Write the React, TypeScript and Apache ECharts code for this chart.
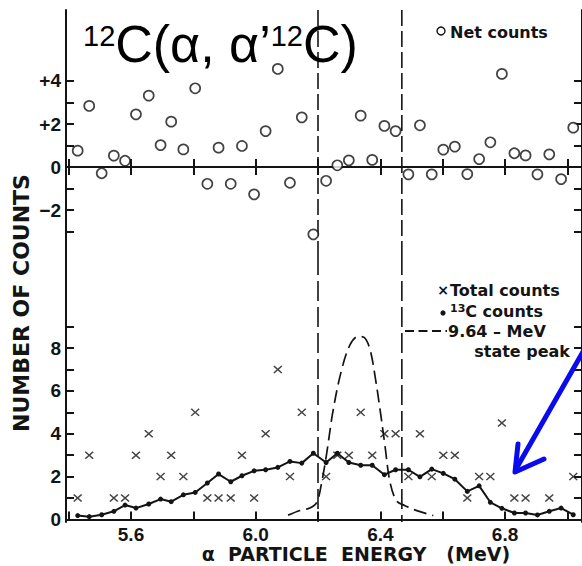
import React, { useEffect, useRef } from "react";
import * as echarts from "echarts";

// Channel energies (MeV)
const energy = [5.429, 5.466, 5.506, 5.545, 5.581, 5.616, 5.657, 5.695, 5.729, 5.768, 5.806, 5.845, 5.881, 5.92, 5.956, 5.995, 6.032, 6.071, 6.11, 6.148, 6.185, 6.226, 6.262, 6.299, 6.337, 6.374, 6.413, 6.449, 6.49, 6.527, 6.565, 6.602, 6.639, 6.679, 6.717, 6.753, 6.79, 6.83, 6.866, 6.904, 6.942, 6.98, 7.019];
// Net counts (top panel)
const netCounts = [0.76, 2.84, -0.29, 0.53, 0.29, 2.45, 3.32, 1.02, 2.11, 0.82, 3.66, -0.78, 0.9, -0.78, 0.98, -1.27, 1.67, 4.56, -0.73, 2.31, -3.13, -0.64, 0.08, 0.31, 2.39, 0.33, 1.91, 1.67, -0.34, 1.94, -0.34, 0.81, 0.95, -0.33, 0.37, 1.15, 4.33, 0.64, 0.54, -0.34, 0.59, -0.56, 1.83];
// Total counts (bottom panel, crosses)
const totalCounts = [1, 3, null, 1, 1, 3, 4, 2, 3, 2, 5, 1, 1, 1, 3, 1, 4, 7, 2, 5, null, 2, 3, 3, 5, 3, 4, 4, 2, 4, 2, 3, 3, 1, 2, 2, 4.5, 1, 1, null, 1, null, 2];
// 13C counts (bottom panel, dots + line)
const c13Counts = [0.18, 0.13, 0.22, 0.38, 0.67, 0.53, 0.72, 0.95, 0.83, 1.15, 1.26, 1.7, 2.12, 1.76, 2.04, 2.27, 2.32, 2.43, 2.71, 2.63, 3.09, 2.66, 3.09, 2.66, 2.53, 2.53, 2.09, 2.32, 2.32, 1.99, 2.35, 2.15, 1.88, 1.31, 1.57, 0.8, 0.52, 0.3, 0.3, 0.21, 0.38, 0.53, 0.22];
// 9.64-MeV state peak (dashed curve)
const peakEnergy = [6.104, 6.142, 6.174, 6.196, 6.212, 6.228, 6.249, 6.276, 6.303, 6.329, 6.348, 6.367, 6.383, 6.399, 6.415, 6.431, 6.452, 6.479, 6.517, 6.57];
const peakCounts = [0.2, 0.42, 0.53, 0.8, 1.74, 3.1, 5.14, 7.0, 8.16, 8.55, 8.5, 7.93, 6.69, 5.14, 3.43, 1.74, 0.87, 0.64, 0.41, 0.18];
// Gate lines (MeV)
const gateLines = [6.2, 6.469];
// Ticks
const xTicks = [5.4, 5.6, 5.8, 6.0, 6.2, 6.4, 6.6, 6.8, 7.0];
const xLabels = [5.6, 6.0, 6.4, 6.8];
const topYTicks = [-3, -2, -1, 0, 1, 2, 3, 4];
const topYLabels = [-2, 0, 2, 4];
const botYTicks = [1, 2, 3, 4, 5, 6, 7, 8, 9];
const botYLabels = [0, 2, 4, 6, 8];

const INK = "#141414";
const XMIN = 5.3915;
const XMAX = 7.047;
const TOP_Y: [number, number] = [-4.09, 7.3];
const BOT_Y: [number, number] = [-0.12, 12.35];

export default function App() {
  const ref = useRef<HTMLDivElement>(null);
  useEffect(() => {
    if (!ref.current) return;
    const chart = echarts.init(ref.current, null, { renderer: "svg" });
    const axisLine = { show: true, lineStyle: { color: INK, width: 2 } };
    const labelFont = { color: INK, fontSize: 19, fontWeight: "bold" as const, fontFamily: "Liberation Sans" };
    const xBase = (gridIndex: number, position: string, labels: boolean) => ({
      type: "value",
      gridIndex,
      position,
      min: XMIN,
      max: XMAX,
      axisLine,
      splitLine: { show: false },
      axisTick: { show: true, inside: true, length: 8, lineStyle: { color: INK, width: 2 }, customValues: xTicks },
      axisLabel: labels
        ? { show: true, margin: 3, customValues: xLabels, formatter: (v: number) => v.toFixed(1), ...labelFont }
        : { show: false },
    });
    const yBase = (gridIndex: number, position: string, range: [number, number], ticks: number[], labels: number[] | null, fmt?: (v: number) => string) => ({
      type: "value",
      gridIndex,
      position,
      min: range[0],
      max: range[1],
      axisLine,
      splitLine: { show: false },
      axisTick: { show: true, inside: true, length: 8, lineStyle: { color: INK, width: 2 }, customValues: ticks },
      axisLabel: labels
        ? { show: true, margin: 5, customValues: labels, formatter: fmt, ...labelFont }
        : { show: false },
    });
    const signFmt = (v: number) => (v > 0 ? "+" + v : v < 0 ? "\u2212" + Math.abs(v) : "0");
    const crossPath = "path://M0,1.2 L1.2,0 L5,3.8 L8.8,0 L10,1.2 L6.2,5 L10,8.8 L8.8,10 L5,6.2 L1.2,10 L0,8.8 L3.8,5 Z";

    const gateSeries = (xAxisIndex: number, yAxisIndex: number, dash: number[]) => ({
      type: "custom",
      xAxisIndex,
      yAxisIndex,
      silent: true,
      z: 1,
      data: gateLines.map((g) => [g, 0]),
      encode: { x: 0, y: 1 },
      renderItem: (params: any, api: any) => {
        const cs = params.coordSys;
        const x = api.coord([api.value(0), api.value(1)])[0];
        return {
          type: "line",
          shape: { x1: x, y1: cs.y, x2: x, y2: cs.y + cs.height },
          style: { stroke: INK, lineWidth: 1.6, lineDash: dash, fill: null },
        };
      },
    });

    chart.setOption({
      animation: false,
      backgroundColor: "#ffffff",
      grid: [
        { left: 66, right: 0, top: 10, height: 245 },
        { left: 66, right: 0, top: 255, height: 267 },
      ],
      xAxis: [xBase(0, "bottom", false), xBase(0, "top", false), xBase(1, "bottom", true)],
      yAxis: [
        yBase(0, "left", TOP_Y, topYTicks, topYLabels, signFmt),
        yBase(0, "right", TOP_Y, topYTicks, null),
        yBase(1, "left", BOT_Y, botYTicks, botYLabels, (v: number) => String(v)),
        yBase(1, "right", BOT_Y, botYTicks, null),
      ],
      series: [
        gateSeries(0, 0, [16, 5]),
        gateSeries(2, 2, [20, 6]),
        {
          name: "Net counts",
          type: "scatter",
          xAxisIndex: 0,
          yAxisIndex: 0,
          symbol: "circle",
          symbolSize: 10,
          itemStyle: { color: "#ffffff", borderColor: INK, borderWidth: 1.7 },
          data: energy.map((e, i) => [e, netCounts[i]]),
          z: 5,
          markLine: {
            silent: true,
            symbol: ["none", "none"],
            label: { show: false },
            lineStyle: { color: INK, width: 1.6, type: "solid" },
            data: [{ yAxis: 0 }],
          },
        },
        {
          name: "13C counts",
          type: "line",
          xAxisIndex: 2,
          yAxisIndex: 2,
          symbol: "circle",
          symbolSize: 5,
          showSymbol: true,
          lineStyle: { color: INK, width: 2 },
          itemStyle: { color: INK },
          data: energy.map((e, i) => [e, c13Counts[i]]),
          z: 3,
        },
        {
          name: "Total counts",
          type: "scatter",
          xAxisIndex: 2,
          yAxisIndex: 2,
          symbol: crossPath,
          symbolSize: [9, 8],
          itemStyle: { color: INK },
          data: energy
            .map((e, i) => [e, totalCounts[i]])
            .filter((d) => d[1] !== null),
          z: 4,
        },
        {
          name: "9.64-MeV state peak",
          type: "line",
          xAxisIndex: 2,
          yAxisIndex: 2,
          showSymbol: false,
          symbol: "none",
          smooth: 0.35,
          lineStyle: { color: INK, width: 1.7, type: [13, 6] },
          data: peakEnergy.map((e, i) => [e, peakCounts[i]]),
          z: 2,
        },
      ],
      graphic: [
        {
          type: "text",
          x: 83,
          y: 18,
          z: 10,
          style: {
            text: "{s|12}{m|C(α, α’}{s|12}{m|C)}",
            verticalAlign: "top",
            align: "left",
            fill: "#000",
            fontFamily: "Liberation Sans",
            rich: {
              s: { fontSize: 29, fontFamily: "Liberation Sans", verticalAlign: "top", fill: "#000", padding: [3, 0, 0, 0] },
              m: { fontSize: 52, fontFamily: "Liberation Sans", fill: "#000" },
            },
          },
        },
        // Net counts legend
        { type: "circle", shape: { cx: 441, cy: 31, r: 4 }, style: { fill: "#fff", stroke: INK, lineWidth: 1.4 } },
        {
          type: "text",
          x: 450,
          y: 32,
          style: { text: "Net counts", fontSize: 16, fontWeight: "bold", fontFamily: "DejaVu Sans", fill: INK, verticalAlign: "middle" },
        },
        // Bottom legend
        {
          type: "text",
          x: 443,
          y: 290,
          style: { text: "×", fontSize: 14, fontWeight: "bold", fontFamily: "DejaVu Sans", fill: INK, align: "center", verticalAlign: "middle" },
        },
        {
          type: "text",
          x: 450,
          y: 290,
          style: { text: "Total counts", fontSize: 16, fontWeight: "bold", fontFamily: "DejaVu Sans", fill: INK, verticalAlign: "middle" },
        },
        { type: "circle", shape: { cx: 443, cy: 313, r: 2.6 }, style: { fill: INK } },
        {
          type: "text",
          x: 450,
          y: 303,
          style: {
            text: "{s|13}{m|C counts}",
            verticalAlign: "top",
            fill: INK,
            rich: {
              s: { fontSize: 11, fontWeight: "bold", fontFamily: "DejaVu Sans", verticalAlign: "top", fill: INK },
              m: { fontSize: 16, fontWeight: "bold", fontFamily: "DejaVu Sans", fill: INK },
            },
          },
        },
        {
          type: "line",
          shape: { x1: 405, y1: 331, x2: 447, y2: 331 },
          style: { stroke: INK, lineWidth: 2.2, lineDash: [9, 4.5] },
        },
        {
          type: "text",
          x: 448,
          y: 331,
          style: { text: "9.64 – MeV", fontSize: 16, fontWeight: "bold", fontFamily: "DejaVu Sans", fill: INK, verticalAlign: "middle" },
        },
        {
          type: "text",
          x: 570,
          y: 351,
          style: { text: "state peak", fontSize: 16, fontWeight: "bold", fontFamily: "DejaVu Sans", fill: INK, align: "right", verticalAlign: "middle" },
        },
        // Axis names
        {
          type: "text",
          x: 21,
          y: 303,
          rotation: Math.PI / 2,
          style: { text: "NUMBER OF COUNTS", fontSize: 22, fontFamily: "DejaVu Sans", fontWeight: "bold", fill: INK, align: "center", verticalAlign: "middle" },
        },
        {
          type: "text",
          x: 356,
          y: 554,
          style: { text: "α  PARTICLE  ENERGY   (MeV)", fontSize: 19, fontFamily: "DejaVu Sans", fontWeight: "bold", fill: INK, align: "center", verticalAlign: "middle" },
        },
        // Blue arrow
        {
          type: "line",
          z: 20,
          shape: { x1: 584, y1: 350, x2: 516, y2: 469 },
          style: { stroke: "#0a0aef", lineWidth: 5, lineCap: "round" },
        },
        {
          type: "polyline",
          z: 20,
          shape: { points: [[518, 444], [515, 472], [544, 459]] },
          style: { stroke: "#0a0aef", lineWidth: 5, fill: "none", lineCap: "round", lineJoin: "round" },
        },
      ],
    });
    return () => chart.dispose();
  }, []);
  return <div ref={ref} style={{ width: 582, height: 566, position: "absolute", left: 0, top: 0 }} />;
}
